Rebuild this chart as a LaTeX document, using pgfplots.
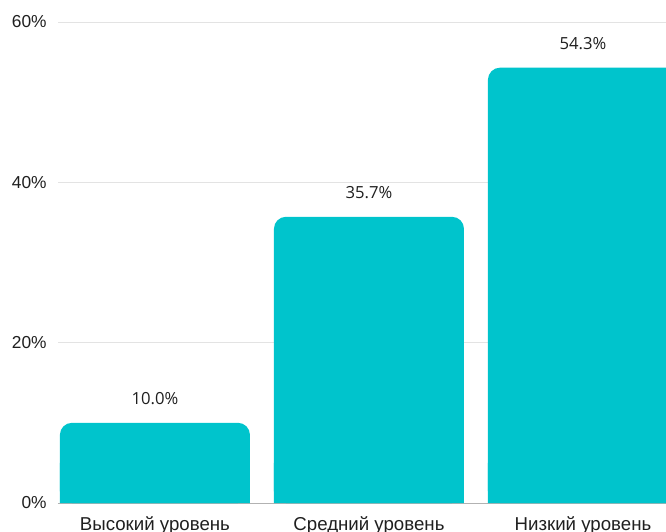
\documentclass[border=0pt]{standalone}
\usepackage{pgfplots}
\pgfplotsset{compat=1.18}
\usepackage{fontspec}
\setmainfont{Liberation Sans}
\newfontfamily\valfont{Open Sans}
\definecolor{barc}{HTML}{00C4CC}
\begin{document}
\begin{tikzpicture}
\begin{axis}[
  scale only axis, width=456pt, height=360.75pt,
  xmin=-0.453, xmax=2.388, ymin=0, ymax=60,
  xtick={0,1,2},
  xticklabels={Высокий уровень, Средний уровень, Низкий уровень},
  ytick={0,20,40,60}, yticklabels={0\%,20\%,40\%,60\%},
  ymajorgrids, grid style={color=black!11, line width=0.6pt},
  axis x line*=bottom, axis y line*=left,
  x axis line style={black!30, line width=0.75pt},
  y axis line style={draw=none},
  major tick length=0pt,
  tick label style={color=black!88},
  yticklabel style={font=\fontsize{13}{15}\selectfont, xshift=-5pt},
  xticklabel style={font=\fontsize{14}{16}\selectfont, yshift=-6.5pt},
  clip=true,
]
\addplot[ybar, bar width=0.888, bar shift=0pt, fill=barc, draw=none, rounded corners=9pt,
  point meta=explicit symbolic, nodes near coords,
  nodes near coords style={font=\valfont\fontsize{12.5}{14}\selectfont, color=black!88, anchor=south, yshift=10pt}]
  coordinates {(0,10.0) [10.0\%] (1,35.7) [35.7\%] (2,54.3) [54.3\%]};
\addplot[ybar, bar width=0.888, bar shift=0pt, fill=barc, draw=none, forget plot]
  coordinates {(0,5) (1,5) (2,5)};
\end{axis}
\pgfresetboundingbox
\path[use as bounding box] ([xshift=-43.5pt,yshift=-21pt]current axis.south west) rectangle ([yshift=16.5pt]current axis.north east);
\end{tikzpicture}
\end{document}
